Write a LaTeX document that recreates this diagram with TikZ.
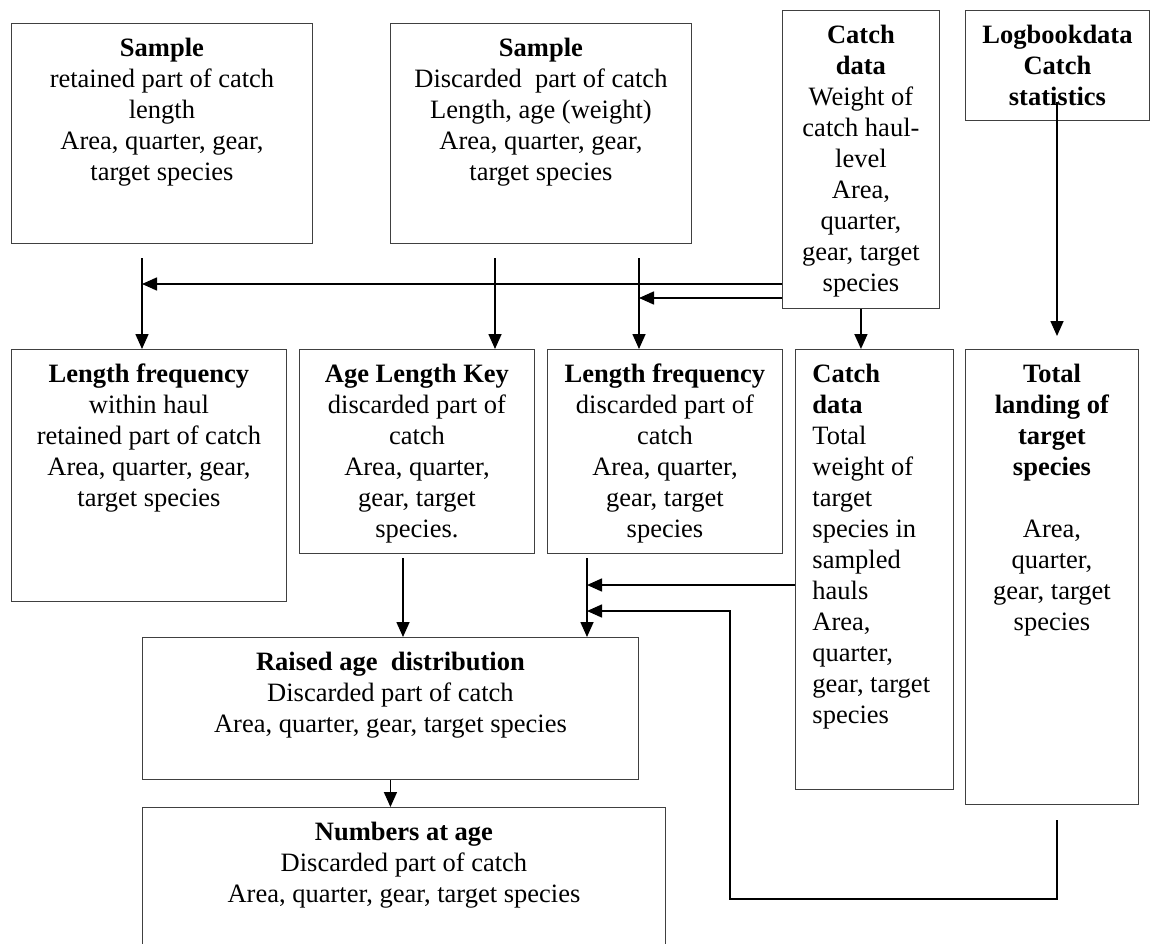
\documentclass[tikz,border=0pt]{standalone}
\usepackage{fontspec}
\setmainfont{Liberation Serif}
\usetikzlibrary{arrows.meta,calc}

\tikzset{
  box/.style={draw=black!75, line width=0.9pt, inner sep=0pt, anchor=north west},
  flow/.style={-{Triangle[length=15pt,width=13pt]}, line width=1.6pt},
  every node/.style={font=\fontsize{26.5}{31}\selectfont},
}
\newcommand{\boxbody}[4]{\parbox[c][#2][t]{#1}{#3\vspace*{11.3pt}\strut #4}}
\newcommand{\lefttext}{\raggedright\leftskip=17pt}

\begin{document}
\begin{tikzpicture}[x=1pt, y=-1pt]
  \useasboundingbox (0,0) rectangle (1150,944);
  \clip (0,0) rectangle (1150,944);

  % top row
  \node [box] (sampret) at (11,23) {\boxbody{301pt}{220pt}{\centering}{\textbf{Sample}\\ retained part of catch\\ length\\ Area, quarter, gear,\\ target species}};
  \node [box] (sampdisc) at (390,23) {\boxbody{301pt}{220pt}{\centering}{\textbf{Sample}\\ Discarded\ \ part of catch\\ Length, age (weight)\\ Area, quarter, gear,\\ target species}};
  \node [box] (catchw) at (782,10) {\boxbody{157pt}{298pt}{\centering}{\textbf{Catch}\\ \textbf{data}\\ Weight of\\ catch haul-\\ level\\ Area,\\ quarter,\\ gear, target\\ species}};
  \node [box] (logbook) at (965,10) {\boxbody{184pt}{110pt}{\centering}{\textbf{Logbookdata}\\ \textbf{Catch}\\ \textbf{statistics}}};

  % second row
  \node [box] (lfret) at (11,349) {\boxbody{275pt}{252pt}{\centering}{\textbf{Length frequency}\\ within haul\\ retained part of catch\\ Area, quarter, gear,\\ target species}};
  \node [box] (alk) at (299,349) {\boxbody{235pt}{204pt}{\centering}{\textbf{Age Length Key}\\ discarded part of\\ catch\\ Area, quarter,\\ gear, target\\ species.}};
  \node [box] (lfdisc) at (547,349) {\boxbody{235pt}{204pt}{\centering}{\textbf{Length frequency}\\ discarded part of\\ catch\\ Area, quarter,\\ gear, target\\ species}};
  \node [box] (catchtot) at (795,349) {\boxbody{158pt}{440pt}{\lefttext}{\textbf{Catch}\\ \textbf{data}\\ Total\\ weight of\\ target\\ species in\\ sampled\\ hauls\\ Area,\\ quarter,\\ gear, target\\ species}};
  \node [box] (landing) at (965,349) {\boxbody{173pt}{455pt}{\centering}{\textbf{Total}\\ \textbf{landing of}\\ \textbf{target}\\ \textbf{species}\\ \mbox{}\\ Area,\\ quarter,\\ gear, target\\ species}};

  % bottom boxes
  \node [box] (raised) at (142,637) {\boxbody{496pt}{142pt}{\centering}{\textbf{Raised age\ \ distribution}\\ Discarded part of catch\\ Area, quarter, gear, target species}};
  \node [box] (numbers) at (142,807) {\boxbody{523pt}{170pt}{\centering}{\textbf{Numbers at age}\\ Discarded part of catch\\ Area, quarter, gear, target species}};

  % arrows into the second row
  \coordinate (s1) at (142,258);
  \coordinate (s2) at (495,258);
  \coordinate (s3) at (639,258);
  \coordinate (h1) at (142,284);
  \coordinate (h2) at (639,298);
  \coordinate (l1) at (1057,102);
  \draw [flow] (s1) -- (s1 |- lfret.north);
  \draw [flow] (s2) -- (s2 |- alk.north);
  \draw [flow] (s3) -- (s3 |- lfdisc.north);
  \draw [flow] (catchw.west |- h1) -- (h1);
  \draw [flow] (catchw.west |- h2) -- (h2);
  \draw [flow] (catchw.south) -- (catchw.south |- catchtot.north);
  \draw [flow] (l1) -- ($(landing.north -| l1)+(0,-13)$);

  % arrows into the raised box
  \coordinate (a1) at (403,558);
  \coordinate (a2) at (587,558);
  \coordinate (h3) at (587,585);
  \coordinate (h4) at (587,611);
  \coordinate (l3) at (1057,820);
  \coordinate (loop) at (730,899);
  \draw [flow] (a1) -- (a1 |- raised.north);
  \draw [flow] (a2) -- (a2 |- raised.north);
  \draw [flow] (catchtot.west |- h3) -- (h3);
  \draw [flow] (l3) |- (loop) |- (h4);
  \draw [flow] (raised.south) -- (raised.south |- numbers.north);

\end{tikzpicture}
\end{document}
